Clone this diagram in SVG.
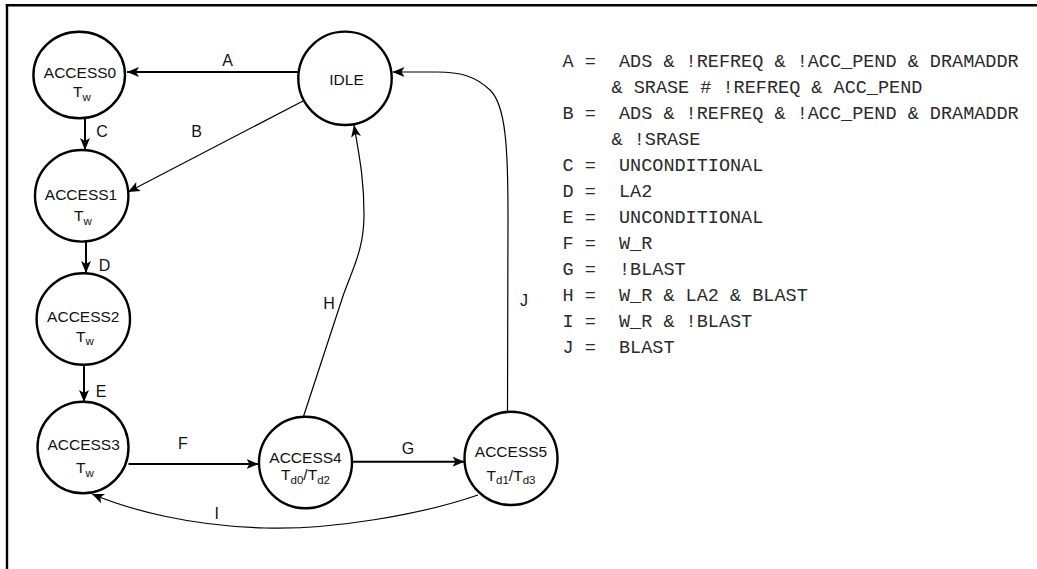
<svg xmlns="http://www.w3.org/2000/svg" width="1037" height="569" viewBox="0 0 1037 569">
<style>
.node{fill:#fff;stroke:#000;stroke-width:2.4}
.nl{font-family:"Liberation Sans",Arial,sans-serif;font-size:15.5px;fill:#111;text-anchor:middle}
.sub{font-size:11.5px}
.el{font-family:"Liberation Sans",Arial,sans-serif;font-size:16px;fill:#111;text-anchor:middle}
.thick{fill:none;stroke:#000;stroke-width:2}
.thin{fill:none;stroke:#000;stroke-width:1.2}
.leg{font-family:"Liberation Mono","Courier New",monospace;font-size:18.5px;fill:#2a2a2a}
</style>
<defs>
<marker id="arr" viewBox="0 0 12 10" refX="12" refY="5" markerWidth="12" markerHeight="10" orient="auto" markerUnits="userSpaceOnUse">
<path d="M0,0 L12,5 L0,10 L3,5 Z" fill="#000"/>
</marker>
</defs>
<rect width="1037" height="569" fill="#fff"/>
<g id="frame" stroke="#000" stroke-width="2.4" fill="none">
<line x1="5.8" y1="5.3" x2="1037" y2="5.3"/>
<line x1="7" y1="4.1" x2="7" y2="569"/>
</g>
<g id="connectors">
<path class="thick" d="M298,72 L127,72" marker-end="url(#arr)"/>
<path class="thin" d="M303,101 L128,192" marker-end="url(#arr)"/>
<path class="thick" d="M85,118.5 L85,150" marker-end="url(#arr)"/>
<path class="thick" d="M86,241.7 L86,273" marker-end="url(#arr)"/>
<path class="thick" d="M84,365 L84,402" marker-end="url(#arr)"/>
<path class="thick" d="M128.5,464 L258.5,464" marker-end="url(#arr)"/>
<path class="thick" d="M352,461.7 L464.5,461.7" marker-end="url(#arr)"/>
<path class="thin" d="M301,424 L343,296 C352,270 364,250 364,215 C364,180 360,160 354,125" marker-end="url(#arr)"/>
<path class="thin" d="M507.5,412 L508,215 C508,150 506,105 490,90 C475,76 460,72 437,72 L392.5,72" marker-end="url(#arr)"/>
<path class="thin" d="M478,495 C420,515 330,530 265,528 C190,526 130,510 92,494" marker-end="url(#arr)"/>
<text class="el" x="227.5" y="65.5">A</text>
<text class="el" x="196.7" y="137">B</text>
<text class="el" x="102" y="137">C</text>
<text class="el" x="104.5" y="270.5">D</text>
<text class="el" x="101" y="396.5">E</text>
<text class="el" x="183" y="448.5">F</text>
<text class="el" x="408" y="453.5">G</text>
<text class="el" x="329" y="308.5">H</text>
<text class="el" x="216.7" y="518.5">I</text>
<text class="el" x="524" y="305.5">J</text>
</g>
<g id="IDLE">
<circle class="node" cx="345" cy="78.3" r="46.7"/>
<text class="nl" x="346.5" y="84.5">IDLE</text>
</g>
<g id="ACCESS0">
<ellipse class="node" cx="79.2" cy="75" rx="45.8" ry="43.3"/>
<text class="nl" x="80" y="77.5">ACCESS0</text>
<text class="nl" x="82" y="97">T<tspan class="sub" dy="3.5">w</tspan></text>
</g>
<g id="ACCESS1">
<ellipse class="node" cx="81.7" cy="195.8" rx="46.7" ry="45.8"/>
<text class="nl" x="81" y="199.5">ACCESS1</text>
<text class="nl" x="83" y="221">T<tspan class="sub" dy="3.5">w</tspan></text>
</g>
<g id="ACCESS2">
<ellipse class="node" cx="83.3" cy="319" rx="46.7" ry="45.8"/>
<text class="nl" x="83.3" y="322">ACCESS2</text>
<text class="nl" x="85" y="341.5">T<tspan class="sub" dy="3.5">w</tspan></text>
</g>
<g id="ACCESS3">
<ellipse class="node" cx="83" cy="447.5" rx="45.5" ry="45.8"/>
<text class="nl" x="83.6" y="450">ACCESS3</text>
<text class="nl" x="85" y="473">T<tspan class="sub" dy="3.5">w</tspan></text>
</g>
<g id="ACCESS4">
<ellipse class="node" cx="305.5" cy="462.5" rx="46.5" ry="45.8"/>
<text class="nl" x="305.5" y="463">ACCESS4</text>
<text class="nl" x="305.5" y="480">T<tspan class="sub" dy="3.5">d0</tspan><tspan dy="-3.5">/T</tspan><tspan class="sub" dy="3.5">d2</tspan></text>
</g>
<g id="ACCESS5">
<ellipse class="node" cx="511" cy="458.4" rx="46.5" ry="46.6"/>
<text class="nl" x="511" y="456.5">ACCESS5</text>
<text class="nl" x="511" y="480.5">T<tspan class="sub" dy="3.5">d1</tspan><tspan dy="-3.5">/T</tspan><tspan class="sub" dy="3.5">d3</tspan></text>
</g>
<g id="legend" class="leg">
<text x="562.5" y="66.7">A =</text><text x="619" y="66.7">ADS &amp; !REFREQ &amp; !ACC_PEND &amp; DRAMADDR</text>
<text x="611.5" y="92.8">&amp; SRASE # !REFREQ &amp; ACC_PEND</text>
<text x="562.5" y="118.8">B =</text><text x="619" y="118.8">ADS &amp; !REFREQ &amp; !ACC_PEND &amp; DRAMADDR</text>
<text x="611.5" y="144.9">&amp; !SRASE</text>
<text x="562.5" y="170.9">C =</text><text x="619" y="170.9">UNCONDITIONAL</text>
<text x="562.5" y="197">D =</text><text x="619" y="197">LA2</text>
<text x="562.5" y="223">E =</text><text x="619" y="223">UNCONDITIONAL</text>
<text x="562.5" y="249">F =</text><text x="619" y="249">W_R</text>
<text x="562.5" y="275.1">G =</text><text x="619" y="275.1">!BLAST</text>
<text x="562.5" y="301.1">H =</text><text x="619" y="301.1">W_R &amp; LA2 &amp; BLAST</text>
<text x="562.5" y="327.2">I =</text><text x="619" y="327.2">W_R &amp; !BLAST</text>
<text x="562.5" y="353.2">J =</text><text x="619" y="353.2">BLAST</text>
</g>
</svg>
